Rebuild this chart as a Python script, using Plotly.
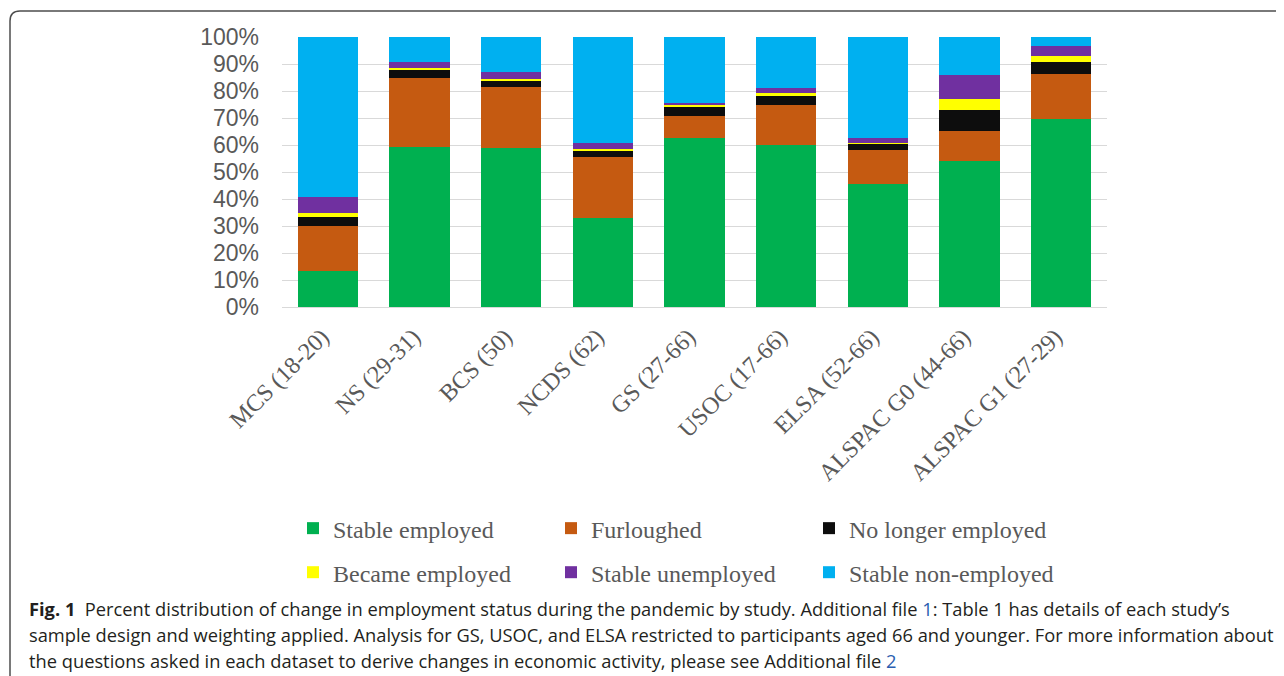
import plotly.graph_objects as go

studies = ["MCS (18-20)", "NS (29-31)", "BCS (50)", "NCDS (62)", "GS (27-66)",
           "USOC (17-66)", "ELSA (52-66)", "ALSPAC G0 (44-66)", "ALSPAC G1 (27-29)"]

stable_employed     = [13.4, 59.4, 58.9, 33.0, 62.7, 60.0, 45.5, 54.0, 69.6]
furloughed          = [16.5, 25.3, 22.4, 22.4, 8.2, 14.8, 12.8, 11.2, 16.7]
no_longer_employed  = [3.5, 3.2, 2.6, 2.6, 3.4, 3.2, 2.1, 7.8, 4.3]
became_employed     = [1.6, 0.8, 0.5, 0.7, 0.6, 1.3, 0.5, 4.1, 2.5]
stable_unemployed   = [5.6, 1.9, 2.5, 2.1, 0.5, 1.9, 1.8, 8.7, 3.4]
stable_non_employed = [59.4, 9.4, 13.1, 39.2, 24.6, 18.8, 37.3, 14.2, 3.5]

series = [
    ("Stable employed", stable_employed, "#00B050", "legend"),
    ("Furloughed", furloughed, "#C55A11", "legend"),
    ("No longer employed", no_longer_employed, "#0D0D0D", "legend"),
    ("Became employed", became_employed, "#FFFF00", "legend2"),
    ("Stable unemployed", stable_unemployed, "#7030A0", "legend2"),
    ("Stable non-employed", stable_non_employed, "#00B0F0", "legend2"),
]

y_ticks = list(range(0, 101, 10))

caption_lines = [
    "<b>Fig. 1</b>  Percent distribution of change in employment status during the pandemic by study. Additional file <span style='color:#2a5db0'>1</span>: Table 1 has details of each study\u2019s",
    "sample design and weighting applied. Analysis for GS, USOC, and ELSA restricted to participants aged 66 and younger. For more information about",
    "the questions asked in each dataset to derive changes in economic activity, please see Additional file <span style='color:#2a5db0'>2</span>",
]

fig = go.Figure()
for name, vals, color, lg in series:
    fig.add_trace(go.Bar(x=studies, y=vals, name=name, marker=dict(color=color, line=dict(width=0)),
                         legend=lg))

OFF = 8  # page body margin
W, H = 1284 - OFF, 676 - OFF
L, R, T, B = 282 - OFF, 1107 - OFF, 37 - OFF, 306.7 - OFF
pw, ph = R - L, B - T

def px(x):
    return (x - OFF - L) / pw

def py(y):
    return (B - (y - OFF)) / ph

legend_common = dict(orientation="h", xanchor="left", yanchor="middle",
                     font=dict(family="Liberation Serif", size=24, color="#595959"),
                     entrywidth=213, entrywidthmode="pixels", traceorder="normal",
                     bgcolor="rgba(0,0,0,0)", itemclick=False)

fig.update_layout(
    width=W, height=H,
    margin=dict(l=L, r=W - R, t=T, b=H - B, pad=0),
    paper_bgcolor="white", plot_bgcolor="white",
    barmode="stack", bargap=0.34,
    showlegend=True,
    legend=dict(x=px(293), y=py(528), **legend_common),
    legend2=dict(x=px(293), y=py(572), **legend_common),
    xaxis=dict(tickangle=-45, tickfont=dict(family="Liberation Serif", size=24, color="#595959"),
               showgrid=False, showline=False, ticks="", fixedrange=True,
               ticklabelstandoff=10, ticklabelshift=-6),
    yaxis=dict(range=[0, 100], tickvals=y_ticks, ticktext=[f"{v}%" for v in y_ticks],
               tickfont=dict(family="Liberation Sans", size=23, color="#595959"),
               showgrid=True, gridcolor="#D9D9D9", gridwidth=1,
               zeroline=True, zerolinecolor="#D9D9D9", zerolinewidth=1,
               showline=False, ticks="", ticklabelstandoff=22),
)

for i, line in enumerate(caption_lines):
    fig.add_annotation(text=line, xref="paper", yref="paper", x=px(27), y=py(608 + 26 * i),
                       xanchor="left", yanchor="middle", showarrow=False, align="left",
                       font=dict(family="Open Sans", size=18.3, color="#231F20"))

xl, xr, yt, yb = px(10), px(1300), py(11), py(700)
rx, ry = 10 / pw, 10 / ph
fig.add_shape(type="path", xref="paper", yref="paper",
              path=f"M {xr},{yt} L {xl + rx},{yt} Q {xl},{yt} {xl},{yt - ry} L {xl},{yb}",
              line=dict(color="#4D4D4D", width=1.5))

fig.write_html("out.html")
